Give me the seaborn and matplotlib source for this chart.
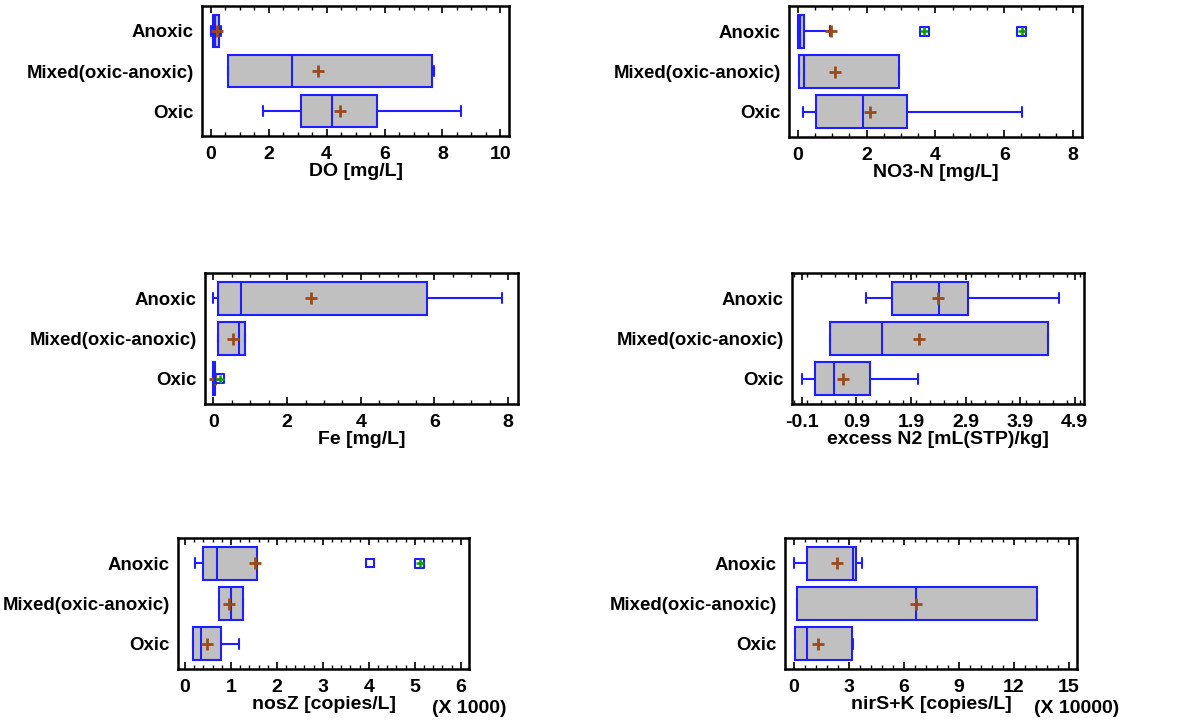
"""Box-and-whisker plots for the three redox groups."""

import matplotlib.pyplot as plt
import seaborn as sns
from matplotlib.ticker import MultipleLocator


GROUPS = ["Anoxic", "Mixed(oxic-anoxic)", "Oxic"]

# one row per group: whisker low, q1, median, q3, whisker high
DO_BOX = [[0.0, 0.09, 0.15, 0.27, 0.35], [0.6, 0.6, 2.82, 7.64, 7.7], [1.81, 3.12, 4.18, 5.73, 8.64]]
DO_MEAN = [0.2, 3.72, 4.45]
DO_MILD = [[], [], []]
DO_FAR = [[], [], []]

NO3_BOX = [[0.0, 0.0, 0.05, 0.19, 0.92], [0.03, 0.03, 0.18, 2.93, 2.93], [0.15, 0.53, 1.88, 3.16, 6.52]]
NO3_MEAN = [0.97, 1.07, 2.11]
NO3_MILD = [[], [], []]
NO3_FAR = [[3.68, 6.51], [], []]

FE_BOX = [[0.0, 0.11, 0.74, 5.81, 7.83], [0.11, 0.11, 0.70, 0.86, 0.86], [0.0, 0.0, 0.02, 0.05, 0.07]]
FE_MEAN = [2.64, 0.54, 0.04]
FE_MILD = [[], [], []]
FE_FAR = [[], [], [0.17]]

N2_BOX = [[1.08, 1.56, 2.41, 2.95, 4.62], [0.41, 0.41, 1.37, 4.41, 4.41], [-0.1, 0.14, 0.48, 1.14, 2.03]]
N2_MEAN = [2.40, 2.05, 0.66]
N2_MILD = [[], [], []]
N2_FAR = [[], [], []]

# nosZ in units of 1000 copies/L
NOSZ_BOX = [[0.21, 0.39, 0.69, 1.57, 1.57], [0.74, 0.74, 1.0, 1.26, 1.26], [0.17, 0.17, 0.35, 0.79, 1.17]]
NOSZ_MEAN = [1.53, 0.95, 0.47]
NOSZ_MILD = [[4.03], [], []]
NOSZ_FAR = [[5.11], [], []]

# nirS+K in units of 10000 copies/L
NIRSK_BOX = [[0.0, 0.71, 3.25, 3.39, 3.75], [0.16, 0.16, 6.69, 13.28, 13.28], [0.05, 0.05, 0.71, 3.16, 3.25]]
NIRSK_MEAN = [2.38, 6.69, 1.31]
NIRSK_MILD = [[], [], []]
NIRSK_FAR = [[], [], []]

N2_TICKS = [-0.1, 0.9, 1.9, 2.9, 3.9, 4.9]

BLUE = "#1e1eff"
GRAY = "#c0c0c0"
BROWN = "#9a4a1c"
GREEN = "#00a000"
FONT = ["Liberation Sans", "DejaVu Sans"]


def draw_panel(ax, box, mean, mild, far, xlim, ticks, minor, xlabel, mult=None):
    """Dibuja un panel de cajas horizontales."""
    stats = []
    for name, row, m, fl in zip(GROUPS, box, mean, mild):
        stats.append(
            {
                "label": name,
                "whislo": row[0],
                "q1": row[1],
                "med": row[2],
                "q3": row[3],
                "whishi": row[4],
                "mean": m,
                "fliers": fl,
            }
        )
    ax.bxp(
        stats,
        positions=range(len(GROUPS)),
        widths=0.82,
        capwidths=0.24,
        orientation="horizontal",
        patch_artist=True,
        showmeans=True,
        boxprops={"facecolor": GRAY, "edgecolor": BLUE, "linewidth": 1.5},
        whiskerprops={"color": BLUE, "linewidth": 1.5},
        capprops={"color": BLUE, "linewidth": 1.5},
        medianprops={"color": BLUE, "linewidth": 1.5},
        meanprops={"marker": "+", "markeredgecolor": BROWN, "markersize": 9, "markeredgewidth": 2},
        flierprops={"marker": "s", "markerfacecolor": "none", "markeredgecolor": BLUE,
                    "markersize": 6, "markeredgewidth": 1.5},
    )

    far_x = [v for vals in far for v in vals]
    far_y = [i for i, vals in enumerate(far) for _ in vals]
    if far_x:
        sns.scatterplot(x=far_x, y=far_y, marker="s", s=40, facecolor="none",
                        edgecolor=BLUE, linewidth=1.5, ax=ax, legend=False, zorder=5)
        sns.scatterplot(x=far_x, y=far_y, marker="+", s=40, color=GREEN,
                        linewidth=1.8, ax=ax, legend=False, zorder=6)

    ax.set_xlim(*xlim)
    ax.set_ylim(2.625, -0.625)
    ax.set_xticks(ticks)
    ax.xaxis.set_minor_locator(MultipleLocator(minor))
    ax.set_yticks(range(len(GROUPS)))
    ax.set_yticklabels(GROUPS)
    ax.tick_params(axis="x", which="both", direction="in", top=True, bottom=True, pad=7,
                   color="black", labelcolor="black")
    ax.tick_params(axis="x", which="major", length=5, width=1.2)
    ax.tick_params(axis="x", which="minor", length=3, width=1.0)
    ax.tick_params(axis="y", length=0, pad=6, labelcolor="black")
    for lab in ax.get_xticklabels():
        lab.set_fontweight("bold")
        lab.set_fontsize(14)
    for lab in ax.get_yticklabels():
        lab.set_fontweight("bold")
        lab.set_fontsize(13.4)
    ax.set_xlabel(xlabel, fontsize=14, fontweight="bold", labelpad=0, color="black")
    ax.set_ylabel("")
    for spine in ax.spines.values():
        spine.set_linewidth(1.8)
        spine.set_color("black")
    if mult:
        ax.text(1.0, -0.30, mult, transform=ax.transAxes, ha="center", va="center",
                fontsize=14, fontweight="bold", color="black")


sns.set_theme(style="ticks")
plt.rcParams["font.family"] = FONT
plt.rcParams["axes.unicode_minus"] = False
plt.rcParams["text.color"] = "black"

fig = plt.figure(figsize=(11.99, 7.22), dpi=100)
ax1 = fig.add_axes([0.1685, 0.8116, 0.2561, 0.1801])
ax2 = fig.add_axes([0.6580, 0.8102, 0.2444, 0.1814])
ax3 = fig.add_axes([0.1710, 0.4404, 0.2610, 0.1814])
ax4 = fig.add_axes([0.6606, 0.4404, 0.2435, 0.1814])
ax5 = fig.add_axes([0.1485, 0.0734, 0.2427, 0.1814])
ax6 = fig.add_axes([0.6547, 0.0734, 0.2435, 0.1814])

draw_panel(ax1, DO_BOX, DO_MEAN, DO_MILD, DO_FAR, (-0.3, 10.3), range(0, 11, 2), 0.5, "DO [mg/L]")
draw_panel(ax2, NO3_BOX, NO3_MEAN, NO3_MILD, NO3_FAR, (-0.26, 8.26), range(0, 9, 2), 0.5, "NO3-N [mg/L]")
draw_panel(ax3, FE_BOX, FE_MEAN, FE_MILD, FE_FAR, (-0.23, 8.27), range(0, 9, 2), 0.5, "Fe [mg/L]")
draw_panel(ax4, N2_BOX, N2_MEAN, N2_MILD, N2_FAR, (-0.28, 5.07), N2_TICKS, 0.25, "excess N2 [mL(STP)/kg]")
draw_panel(ax5, NOSZ_BOX, NOSZ_MEAN, NOSZ_MILD, NOSZ_FAR, (-0.15, 6.18), range(0, 7), 0.2,
           "nosZ [copies/L]", "(X 1000)")
draw_panel(ax6, NIRSK_BOX, NIRSK_MEAN, NIRSK_MILD, NIRSK_FAR, (-0.47, 15.44), range(0, 16, 3), 0.6,
           "nirS+K [copies/L]", "(X 10000)")

fig.savefig("out.png", dpi=100)
plt.close(fig)
